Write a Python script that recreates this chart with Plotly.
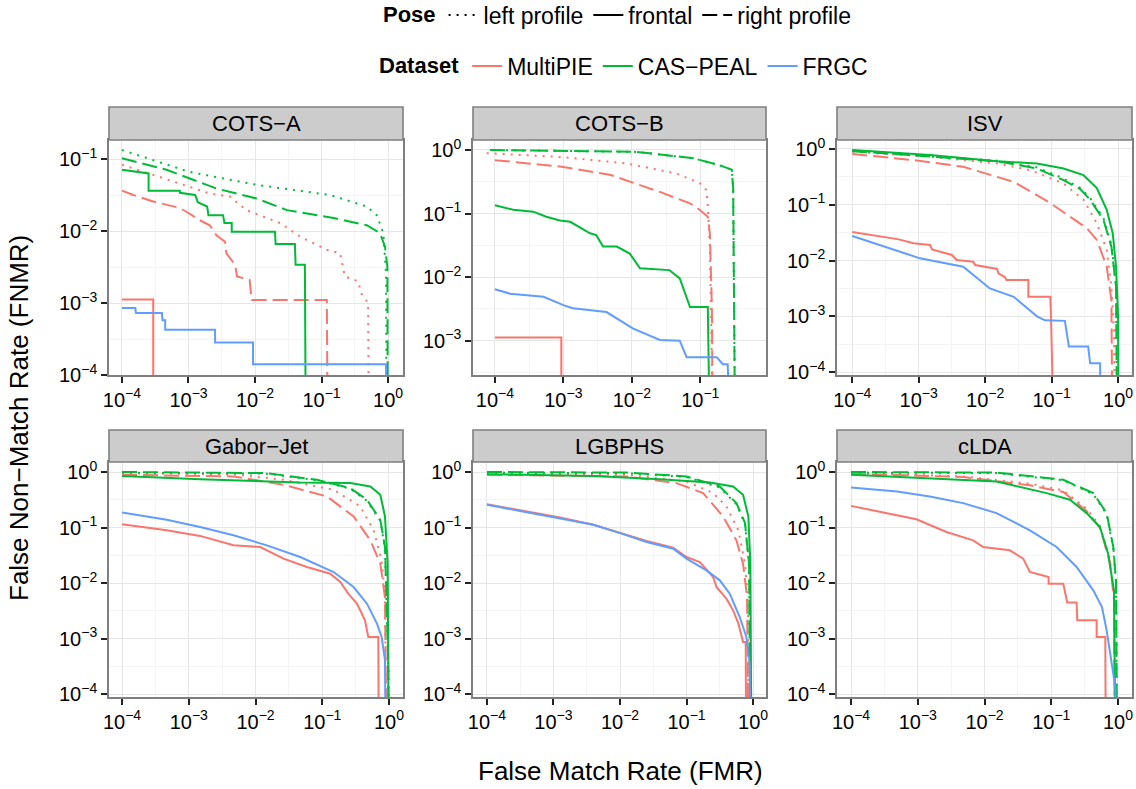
import math
import plotly.graph_objects as go

W, H = 1136, 789
FONT = "Liberation Sans, Arial, Helvetica, sans-serif"

PANELS = ["COTS−A", "COTS−B", "ISV", "Gabor−Jet", "LGBPHS", "cLDA"]
DATASETS = ["MultiPIE", "CAS−PEAL", "FRGC"]
POSES = ["left profile", "frontal", "right profile"]
DATASET_COLORS = {"MultiPIE": "#F8766D", "CAS−PEAL": "#00BA38", "FRGC": "#619CFF"}
POSE_DASH = {"left profile": "2px,6px", "frontal": "solid", "right profile": "15px,6px"}

# ---- DET curves: (log10 FMR, log10 FNMR) ----
# COTS-A
COTSA_MPIE_LEFT = [(-4.0, -1.08), (-3.83, -1.13), (-3.43, -1.25), (-2.68, -1.48), (-2.38, -1.52), (-2.13, -1.71), (-1.62, -1.89), (-1.32, -2.08), (-0.92, -2.26), (-0.72, -2.31), (-0.65, -2.63), (-0.45, -2.70), (-0.40, -2.87), (-0.30, -3.0), (-0.28, -6)]
COTSA_MPIE_FRONT = [(-4.0, -2.95), (-3.53, -2.95), (-3.53, -6)]
COTSA_MPIE_RIGHT = [(-4.0, -1.44), (-3.83, -1.50), (-3.53, -1.59), (-3.33, -1.64), (-3.13, -1.68), (-3.0, -1.75), (-2.83, -1.85), (-2.68, -1.92), (-2.58, -2.06), (-2.45, -2.15), (-2.43, -2.31), (-2.30, -2.47), (-2.27, -2.63), (-2.08, -2.68), (-2.05, -2.96), (-0.92, -2.96), (-0.90, -6)]
COTSA_CAS_LEFT = [(-4.0, -0.875), (-2.98, -1.18), (-1.97, -1.36), (-0.87, -1.50), (-0.32, -1.66), (-0.17, -1.78), (-0.07, -2.03), (-0.03, -2.6), (-0.02, -6)]
COTSA_CAS_FRONT = [(-4.0, -1.15), (-3.7, -1.18), (-3.6, -1.20), (-3.6, -1.44), (-3.13, -1.44), (-3.13, -1.47), (-2.9, -1.50), (-2.86, -1.60), (-2.72, -1.66), (-2.70, -1.78), (-2.48, -1.78), (-2.46, -1.89), (-2.35, -1.89), (-2.35, -2.01), (-1.70, -2.01), (-1.69, -2.18), (-1.40, -2.18), (-1.39, -2.47), (-1.25, -2.47), (-1.23, -6)]
COTSA_CAS_RIGHT = [(-4.0, -0.99), (-3.33, -1.15), (-2.58, -1.41), (-1.97, -1.55), (-1.52, -1.71), (-0.82, -1.82), (-0.32, -1.92), (-0.12, -2.03), (-0.045, -2.22), (-0.01, -2.5), (0.0, -6)]
COTSA_FRGC_FRONT = [(-4.0, -3.07), (-3.80, -3.07), (-3.79, -3.14), (-3.40, -3.14), (-3.39, -3.24), (-3.35, -3.24), (-3.35, -3.37), (-2.60, -3.37), (-2.60, -3.55), (-2.03, -3.55), (-2.03, -3.85), (-0.03, -3.85), (-0.03, -6)]
# COTS-B
COTSB_MPIE_LEFT = [(-4.12, -0.05), (-3.05, -0.11), (-2.08, -0.21), (-1.35, -0.37), (-1.01, -0.52), (-0.91, -0.63), (-0.89, -0.89), (-0.86, -1.5), (-0.79, -6)]
COTSB_MPIE_FRONT = [(-4.0, -2.95), (-3.03, -2.95), (-3.03, -6)]
COTSB_MPIE_RIGHT = [(-4.0, -0.16), (-3.05, -0.26), (-2.32, -0.39), (-1.59, -0.66), (-1.15, -0.84), (-1.01, -0.94), (-0.89, -1.05), (-0.86, -1.31), (-0.83, -2.5), (-0.81, -6)]
COTSB_CAS_LEFT = [(-4.07, 0.0), (-1.93, -0.03), (-1.10, -0.13), (-0.72, -0.24), (-0.54, -0.31), (-0.52, -0.6), (-0.48, -6)]
COTSB_CAS_FRONT = [(-4.0, -0.87), (-3.73, -0.94), (-3.44, -0.97), (-3.25, -1.05), (-3.05, -1.11), (-2.9, -1.13), (-2.61, -1.31), (-2.52, -1.34), (-2.42, -1.52), (-2.22, -1.52), (-2.03, -1.63), (-1.88, -1.86), (-1.45, -1.89), (-1.30, -2.02), (-1.15, -2.47), (-0.89, -2.47), (-0.84, -6)]
COTSB_CAS_RIGHT = [(-4.07, 0.0), (-1.93, -0.03), (-1.10, -0.13), (-0.72, -0.24), (-0.54, -0.31), (-0.52, -0.6), (-0.48, -6)]
COTSB_FRGC_FRONT = [(-4.0, -2.19), (-3.78, -2.26), (-3.29, -2.31), (-3.0, -2.44), (-2.86, -2.49), (-2.37, -2.55), (-1.98, -2.81), (-1.59, -2.99), (-1.30, -3.0), (-1.20, -3.26), (-0.76, -3.26), (-0.67, -3.37), (-0.60, -3.37), (-0.50, -6)]
# ISV
ISV_MPIE_LEFT = [(-4.0, -0.05), (-2.83, -0.14), (-1.82, -0.26), (-1.32, -0.38), (-0.82, -0.62), (-0.52, -0.91), (-0.32, -1.33), (-0.17, -1.81), (-0.10, -2.47), (-0.06, -3.31), (-0.05, -6)]
ISV_MPIE_FRONT = [(-4.0, -1.49), (-3.58, -1.56), (-3.3, -1.62), (-3.08, -1.69), (-2.83, -1.72), (-2.80, -1.80), (-2.68, -1.84), (-2.5, -1.90), (-2.43, -1.99), (-2.18, -2.02), (-2.15, -2.08), (-2.03, -2.11), (-1.82, -2.15), (-1.80, -2.23), (-1.70, -2.30), (-1.68, -2.35), (-1.35, -2.35), (-1.35, -2.65), (-1.02, -2.65), (-1.01, -2.95), (-0.95, -6)]
ISV_MPIE_RIGHT = [(-4.0, -0.09), (-3.08, -0.20), (-2.33, -0.32), (-1.57, -0.59), (-1.02, -0.97), (-0.72, -1.21), (-0.47, -1.42), (-0.32, -1.63), (-0.17, -2.11), (-0.10, -2.71), (-0.08, -6)]
ISV_CAS_LEFT = [(-4.0, -0.03), (-2.83, -0.12), (-1.82, -0.21), (-1.22, -0.33), (-0.82, -0.53), (-0.57, -0.70), (-0.42, -0.88), (-0.22, -1.24), (-0.10, -1.72), (-0.03, -2.45), (-0.01, -6)]
ISV_CAS_FRONT = [(-4.0, -0.02), (-2.83, -0.11), (-1.82, -0.22), (-1.22, -0.26), (-0.82, -0.35), (-0.52, -0.47), (-0.32, -0.70), (-0.17, -1.09), (-0.08, -1.51), (-0.03, -2.11), (0.0, -3.0), (0.01, -6)]
ISV_CAS_RIGHT = [(-4.0, -0.04), (-2.83, -0.13), (-1.82, -0.22), (-1.22, -0.35), (-0.82, -0.56), (-0.57, -0.72), (-0.42, -0.91), (-0.22, -1.27), (-0.10, -1.75), (-0.03, -2.47), (-0.01, -6)]
ISV_FRGC_FRONT = [(-4.0, -1.56), (-3.58, -1.72), (-2.98, -1.96), (-2.33, -2.11), (-1.93, -2.50), (-1.57, -2.65), (-1.22, -3.0), (-1.10, -3.07), (-0.80, -3.08), (-0.74, -3.54), (-0.45, -3.54), (-0.42, -3.84), (-0.27, -3.84), (-0.26, -6)]
# Gabor-Jet
GABOR_MPIE_LEFT = [(-4.0, -0.02), (-2.33, -0.04), (-1.58, -0.14), (-0.83, -0.32), (-0.43, -0.62), (-0.23, -1.05), (-0.11, -1.59), (-0.06, -2.25), (-0.03, -6)]
GABOR_MPIE_FRONT = [(-4.0, -0.94), (-3.33, -1.05), (-2.83, -1.15), (-2.33, -1.32), (-1.93, -1.35), (-1.58, -1.56), (-1.23, -1.71), (-0.88, -1.83), (-0.73, -1.98), (-0.61, -2.19), (-0.48, -2.37), (-0.36, -2.67), (-0.31, -2.97), (-0.16, -2.97), (-0.15, -6)]
GABOR_MPIE_RIGHT = [(-4.0, -0.05), (-2.33, -0.08), (-1.58, -0.23), (-0.93, -0.44), (-0.53, -0.80), (-0.28, -1.23), (-0.13, -1.65), (-0.06, -2.25), (-0.03, -6)]
GABOR_CAS_LEFT = [(-4.0, -0.01), (-1.83, -0.03), (-1.08, -0.15), (-0.58, -0.30), (-0.33, -0.52), (-0.13, -0.88), (-0.06, -1.38), (-0.01, -3.4), (0.0, -6)]
GABOR_CAS_FRONT = [(-4.0, -0.07), (-2.83, -0.13), (-1.33, -0.19), (-0.58, -0.20), (-0.28, -0.26), (-0.13, -0.41), (-0.06, -0.80), (-0.02, -1.65), (0.0, -6)]
GABOR_CAS_RIGHT = [(-4.0, 0.0), (-1.83, -0.02), (-1.08, -0.14), (-0.58, -0.29), (-0.33, -0.50), (-0.13, -0.86), (-0.06, -1.35), (-0.01, -3.45), (0.0, -6)]
GABOR_FRGC_FRONT = [(-4.0, -0.73), (-3.33, -0.86), (-2.83, -0.99), (-2.33, -1.14), (-1.83, -1.32), (-1.33, -1.53), (-0.83, -1.80), (-0.53, -2.07), (-0.33, -2.37), (-0.18, -2.73), (-0.11, -2.97), (-0.06, -3.39), (-0.04, -6)]
# LGBPHS
LGBPHS_MPIE_LEFT = [(-4.0, -0.03), (-1.9, -0.05), (-1.0, -0.17), (-0.60, -0.38), (-0.40, -0.62), (-0.22, -1.05), (-0.12, -1.65), (-0.08, -2.25), (-0.05, -6)]
LGBPHS_MPIE_FRONT = [(-4.0, -0.58), (-3.40, -0.71), (-2.90, -0.82), (-2.40, -0.95), (-2.0, -1.09), (-1.60, -1.24), (-1.20, -1.36), (-1.0, -1.53), (-0.80, -1.62), (-0.60, -1.89), (-0.55, -2.07), (-0.40, -2.28), (-0.30, -2.49), (-0.22, -2.73), (-0.15, -3.06), (-0.11, -3.06), (-0.10, -6)]
LGBPHS_MPIE_RIGHT = [(-4.0, -0.05), (-1.9, -0.08), (-1.15, -0.20), (-0.75, -0.38), (-0.45, -0.80), (-0.25, -1.23), (-0.15, -1.65), (-0.09, -2.25), (-0.06, -6)]
LGBPHS_CAS_LEFT = [(-4.0, -0.01), (-1.9, -0.02), (-1.0, -0.09), (-0.50, -0.28), (-0.25, -0.58), (-0.12, -0.94), (-0.06, -1.7), (-0.03, -6)]
LGBPHS_CAS_FRONT = [(-4.0, -0.04), (-2.40, -0.07), (-1.40, -0.13), (-0.65, -0.19), (-0.30, -0.26), (-0.15, -0.41), (-0.07, -0.80), (-0.04, -1.65), (-0.02, -6)]
LGBPHS_CAS_RIGHT = [(-4.0, 0.0), (-1.9, -0.01), (-1.0, -0.08), (-0.50, -0.26), (-0.25, -0.56), (-0.12, -0.92), (-0.06, -1.65), (-0.03, -6)]
LGBPHS_FRGC_FRONT = [(-4.0, -0.59), (-3.40, -0.72), (-2.90, -0.83), (-2.40, -0.95), (-2.0, -1.10), (-1.60, -1.26), (-1.20, -1.38), (-1.0, -1.56), (-0.70, -1.77), (-0.50, -1.95), (-0.35, -2.19), (-0.20, -2.61), (-0.10, -2.97), (-0.05, -3.45), (-0.03, -6)]
# cLDA
CLDA_MPIE_LEFT = [(-4.0, -0.02), (-2.32, -0.08), (-1.32, -0.21), (-0.82, -0.33), (-0.47, -0.66), (-0.27, -0.97), (-0.12, -1.57), (-0.06, -2.25), (-0.04, -6)]
CLDA_MPIE_FRONT = [(-4.0, -0.61), (-3.57, -0.72), (-3.02, -0.85), (-2.57, -1.08), (-2.17, -1.23), (-2.02, -1.35), (-1.62, -1.41), (-1.42, -1.56), (-1.32, -1.80), (-1.04, -1.89), (-1.04, -2.01), (-0.82, -2.01), (-0.76, -2.35), (-0.62, -2.35), (-0.61, -2.67), (-0.32, -2.67), (-0.32, -2.97), (-0.19, -2.97), (-0.18, -6)]
CLDA_MPIE_RIGHT = [(-4.0, -0.03), (-2.32, -0.09), (-1.32, -0.24), (-0.82, -0.36), (-0.47, -0.70), (-0.27, -1.01), (-0.12, -1.62), (-0.06, -2.3), (-0.04, -6)]
CLDA_CAS_LEFT = [(-4.0, -0.01), (-1.82, -0.02), (-0.82, -0.15), (-0.37, -0.40), (-0.17, -0.76), (-0.07, -1.38), (-0.03, -2.0), (-0.01, -6)]
CLDA_CAS_FRONT = [(-4.0, -0.05), (-2.82, -0.11), (-1.82, -0.17), (-1.07, -0.38), (-0.72, -0.50), (-0.47, -0.74), (-0.27, -0.99), (-0.15, -1.46), (-0.06, -2.13), (-0.03, -6)]
CLDA_CAS_RIGHT = [(-4.0, 0.0), (-1.82, -0.01), (-0.82, -0.14), (-0.37, -0.38), (-0.17, -0.74), (-0.07, -1.35), (-0.03, -1.95), (-0.01, -6)]
CLDA_FRGC_FRONT = [(-4.0, -0.28), (-3.31, -0.35), (-2.82, -0.44), (-2.32, -0.56), (-1.82, -0.74), (-1.32, -1.05), (-0.92, -1.35), (-0.62, -1.71), (-0.37, -2.13), (-0.24, -2.43), (-0.17, -2.85), (-0.09, -3.45), (-0.04, -3.87), (-0.02, -6)]

CURVES = {
    "COTS−A": [("MultiPIE", "left profile", COTSA_MPIE_LEFT), ("MultiPIE", "frontal", COTSA_MPIE_FRONT), ("MultiPIE", "right profile", COTSA_MPIE_RIGHT),
               ("CAS−PEAL", "left profile", COTSA_CAS_LEFT), ("CAS−PEAL", "frontal", COTSA_CAS_FRONT), ("CAS−PEAL", "right profile", COTSA_CAS_RIGHT),
               ("FRGC", "frontal", COTSA_FRGC_FRONT)],
    "COTS−B": [("MultiPIE", "left profile", COTSB_MPIE_LEFT), ("MultiPIE", "frontal", COTSB_MPIE_FRONT), ("MultiPIE", "right profile", COTSB_MPIE_RIGHT),
               ("CAS−PEAL", "left profile", COTSB_CAS_LEFT), ("CAS−PEAL", "frontal", COTSB_CAS_FRONT), ("CAS−PEAL", "right profile", COTSB_CAS_RIGHT),
               ("FRGC", "frontal", COTSB_FRGC_FRONT)],
    "ISV": [("MultiPIE", "left profile", ISV_MPIE_LEFT), ("MultiPIE", "frontal", ISV_MPIE_FRONT), ("MultiPIE", "right profile", ISV_MPIE_RIGHT),
            ("CAS−PEAL", "left profile", ISV_CAS_LEFT), ("CAS−PEAL", "frontal", ISV_CAS_FRONT), ("CAS−PEAL", "right profile", ISV_CAS_RIGHT),
            ("FRGC", "frontal", ISV_FRGC_FRONT)],
    "Gabor−Jet": [("MultiPIE", "left profile", GABOR_MPIE_LEFT), ("MultiPIE", "frontal", GABOR_MPIE_FRONT), ("MultiPIE", "right profile", GABOR_MPIE_RIGHT),
                  ("CAS−PEAL", "left profile", GABOR_CAS_LEFT), ("CAS−PEAL", "frontal", GABOR_CAS_FRONT), ("CAS−PEAL", "right profile", GABOR_CAS_RIGHT),
                  ("FRGC", "frontal", GABOR_FRGC_FRONT)],
    "LGBPHS": [("MultiPIE", "left profile", LGBPHS_MPIE_LEFT), ("MultiPIE", "frontal", LGBPHS_MPIE_FRONT), ("MultiPIE", "right profile", LGBPHS_MPIE_RIGHT),
               ("CAS−PEAL", "left profile", LGBPHS_CAS_LEFT), ("CAS−PEAL", "frontal", LGBPHS_CAS_FRONT), ("CAS−PEAL", "right profile", LGBPHS_CAS_RIGHT),
               ("FRGC", "frontal", LGBPHS_FRGC_FRONT)],
    "cLDA": [("MultiPIE", "left profile", CLDA_MPIE_LEFT), ("MultiPIE", "frontal", CLDA_MPIE_FRONT), ("MultiPIE", "right profile", CLDA_MPIE_RIGHT),
             ("CAS−PEAL", "left profile", CLDA_CAS_LEFT), ("CAS−PEAL", "frontal", CLDA_CAS_FRONT), ("CAS−PEAL", "right profile", CLDA_CAS_RIGHT),
             ("FRGC", "frontal", CLDA_FRGC_FRONT)],
}

# visible axis windows (log10 units) per panel (free scales)
X_RANGES = [(-4.195, 0.225), (-4.32, -0.04), (-4.23, 0.21), (-4.195, 0.21), (-4.21, 0.195), (-4.21, 0.21)]
Y_RANGES = [(-4.0, -0.736), (-3.54, 0.157), (-4.05, 0.16), (-4.05, 0.18), (-4.05, 0.18), (-4.05, 0.18)]

# ---- layout geometry (pixels of the page) ----
COL_PX = [(109, 403), (473, 766), (837, 1132)]
ROW_PX = [(140, 375), (462, 697)]
STRIP_PX = [(107, 140), (430, 462)]


def fx(p):
    return p / W


def fy(p):
    return 1 - p / H


def sup_label(e):
    s = str(e).replace("-", "−")
    return f"10<sup>{s}</sup>"


fig = go.Figure()
shapes, annotations = [], []
layout = {}

for i, name in enumerate(PANELS):
    r, c = divmod(i, 3)
    k = "" if i == 0 else str(i + 1)
    x0, x1 = COL_PX[c]
    y0, y1 = ROW_PX[r]
    xr, yr = X_RANGES[i], Y_RANGES[i]
    xt = list(range(math.ceil(xr[0]), math.floor(xr[1]) + 1))
    yt = list(range(math.ceil(yr[0]), math.floor(yr[1]) + 1))
    xm = [e + 0.5 for e in range(math.floor(xr[0]) - 1, math.ceil(xr[1]) + 1) if xr[0] < e + 0.5 < xr[1]]
    ym = [e + 0.5 for e in range(math.floor(yr[0]) - 1, math.ceil(yr[1]) + 1) if yr[0] < e + 0.5 < yr[1]]
    common = dict(type="log", showline=True, mirror=True, linecolor="#7f7f7f", linewidth=1.6,
                  ticks="outside", ticklen=6, tickwidth=2, tickcolor="#222222", automargin=False,
                  showgrid=True, gridcolor="#e6e6e6", gridwidth=1.2, zeroline=False,
                  tickfont=dict(family=FONT, size=20, color="black"))
    layout["xaxis" + k] = dict(common, domain=[fx(x0), fx(x1)], anchor="y" + k, range=list(xr),
                               tickvals=[10.0 ** e for e in xt], ticktext=[sup_label(e) for e in xt],
                               minor=dict(tickvals=[10.0 ** e for e in xm], showgrid=True, gridcolor="#f4f4f4", gridwidth=1, ticks=""))
    layout["yaxis" + k] = dict(common, domain=[fy(y1), fy(y0)], anchor="x" + k, range=list(yr),
                               tickvals=[10.0 ** e for e in yt], ticktext=[sup_label(e) for e in yt],
                               minor=dict(tickvals=[10.0 ** e for e in ym], showgrid=True, gridcolor="#f4f4f4", gridwidth=1, ticks=""))
    sy0, sy1 = STRIP_PX[r]
    shapes.append(dict(type="rect", xref="paper", yref="paper", x0=fx(x0), x1=fx(x1), y0=fy(sy1), y1=fy(sy0),
                       fillcolor="#cccccc", line=dict(color="#7f7f7f", width=1.6), layer="above"))
    annotations.append(dict(text=name, xref="paper", yref="paper", x=fx((x0 + x1) / 2), y=fy((sy0 + sy1) / 2),
                            showarrow=False, xanchor="center", yanchor="middle",
                            font=dict(family=FONT, size=22, color="black")))
    for ds, pose, pts in CURVES[name]:
        fig.add_trace(go.Scatter(
            x=[10.0 ** a for a, b in pts], y=[10.0 ** b for a, b in pts],
            mode="lines", xaxis="x" + k, yaxis="y" + k, showlegend=False,
            line=dict(color=DATASET_COLORS[ds], dash=POSE_DASH[pose], width=2),
            name=f"{ds} – {pose}"))

# legend entries
for pose in POSES:
    fig.add_trace(go.Scatter(x=[None], y=[None], mode="lines", name=pose, legend="legend",
                             line=dict(color="black", dash=POSE_DASH[pose], width=2)))
for ds in DATASETS:
    fig.add_trace(go.Scatter(x=[None], y=[None], mode="lines", name=ds, legend="legend2",
                             line=dict(color=DATASET_COLORS[ds], width=2)))

annotations.append(dict(text="False Match Rate (FMR)", xref="paper", yref="paper", x=fx(620), y=fy(771),
                        showarrow=False, xanchor="center", yanchor="middle",
                        font=dict(family=FONT, size=26, color="black")))
annotations.append(dict(text="False Non−Match Rate (FNMR)", xref="paper", yref="paper", x=fx(19), y=fy(418),
                        showarrow=False, xanchor="center", yanchor="middle", textangle=-90,
                        font=dict(family=FONT, size=26, color="black")))

leg_common = dict(orientation="h", xanchor="center", yanchor="middle", bgcolor="rgba(0,0,0,0)",
                  font=dict(family=FONT, size=23, color="black"), itemwidth=30)
layout["legend"] = dict(leg_common, x=fx(619), y=fy(15),
                        title=dict(text="<b>Pose</b>", side="left", font=dict(family=FONT, size=22)))
layout["legend2"] = dict(leg_common, x=fx(625), y=fy(66),
                         title=dict(text="<b>Dataset</b>", side="left", font=dict(family=FONT, size=22)))

fig.update_layout(width=W, height=H, margin=dict(l=0, r=0, t=0, b=0, autoexpand=False),
                  paper_bgcolor="white", plot_bgcolor="white",
                  font=dict(family=FONT, color="black"),
                  shapes=shapes, annotations=annotations, **layout)

fig.write_html("out.html", config={"displayModeBar": False},
               post_script="document.body.style.margin='0px';")
